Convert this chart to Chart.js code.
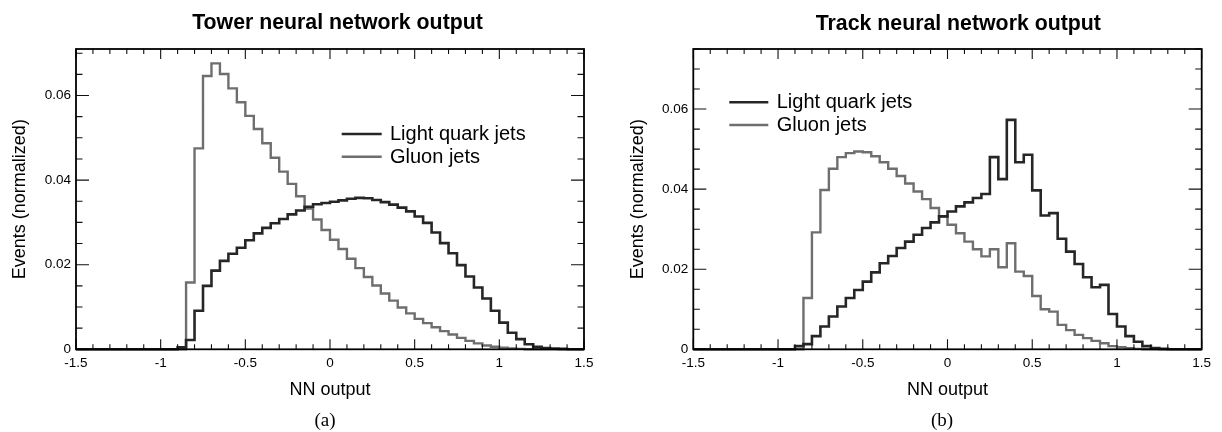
<!DOCTYPE html>
<html><head><meta charset="utf-8">
<script src="https://cdn.jsdelivr.net/npm/chart.js@4.4.1/dist/chart.umd.min.js"></script>
<style>
html,body{margin:0;padding:0;background:#fff;}
#wrap{position:relative;width:1222px;height:432px;background:#fff;}
canvas{position:absolute;top:0;}
</style></head><body>
<div id="wrap">
<canvas id="c1" width="611" height="432" style="left:0px"></canvas>
<canvas id="c2" width="611" height="432" style="left:611px"></canvas>
</div>
<script>
// ---------- DATA ----------
// lower edges of the 60 histogram bins (width 0.05); last upper edge is 1.5
const binLow = [-1.5,-1.45,-1.4,-1.35,-1.3,-1.25,-1.2,-1.15,-1.1,-1.05,
  -1,-0.95,-0.9,-0.85,-0.8,-0.75,-0.7,-0.65,-0.6,-0.55,
  -0.5,-0.45,-0.4,-0.35,-0.3,-0.25,-0.2,-0.15,-0.1,-0.05,
  0,0.05,0.1,0.15,0.2,0.25,0.3,0.35,0.4,0.45,
  0.5,0.55,0.6,0.65,0.7,0.75,0.8,0.85,0.9,0.95,
  1,1.05,1.1,1.15,1.2,1.25,1.3,1.35,1.4,1.45];
const binTopEdge = 1.5;

const seriesLabels = ['Light quark jets', 'Gluon jets'];

const towerQuark = [0,0,0,0,0,0,0,0,0,0,
  0,0,0.0005,0.0022,0.0091,0.015,0.0186,0.0209,0.0226,0.024,
  0.0258,0.0274,0.0287,0.0298,0.0308,0.0319,0.0328,0.0337,0.0343,0.0346,
  0.0349,0.0352,0.0356,0.0358,0.0357,0.0353,0.0348,0.0342,0.0335,0.0326,
  0.0314,0.0299,0.0276,0.0251,0.0227,0.0199,0.0172,0.0146,0.012,0.0091,
  0.0063,0.0039,0.0024,0.0012,0.0006,0.0003,0.0002,0.0001,0,0];
const towerGluon = [0,0,0,0,0,0,0,0,0,0,
  0,0,0,0.0158,0.0475,0.0646,0.0676,0.0651,0.0617,0.0584,
  0.0552,0.0521,0.0487,0.0453,0.042,0.0391,0.0362,0.0333,0.0307,0.0282,
  0.0259,0.0237,0.0214,0.0192,0.0171,0.0151,0.0132,0.0115,0.0099,0.0085,
  0.0072,0.0062,0.0052,0.0043,0.0035,0.0027,0.002,0.0014,0.0009,0.0006,
  0.0004,0.0002,0.0001,0,0,0,0,0,0,0];
const trackQuark = [0,0,0,0,0,0,0,0,0,0,
  0,0,0.0008,0.0013,0.0033,0.0057,0.0082,0.0107,0.0128,0.0148,
  0.0169,0.0192,0.0215,0.0233,0.0253,0.0269,0.0286,0.0303,0.0317,0.0332,
  0.0344,0.0357,0.0367,0.0378,0.0388,0.048,0.0425,0.0573,0.0467,0.0486,
  0.0397,0.0334,0.034,0.0276,0.0244,0.0213,0.018,0.0155,0.0161,0.0088,
  0.0057,0.0033,0.0019,0.0008,0.0003,0.0001,0,0,0,0];
const trackGluon = [0,0,0,0,0,0,0,0,0,0,
  0,0,0,0.0128,0.0292,0.0398,0.0451,0.048,0.049,0.0494,
  0.0492,0.0482,0.0467,0.0451,0.0433,0.0414,0.0394,0.0375,0.0353,0.0332,
  0.0311,0.029,0.0269,0.025,0.0232,0.025,0.0205,0.0265,0.0194,0.0183,
  0.0133,0.01,0.0094,0.0061,0.0048,0.0036,0.0028,0.0021,0.0015,0.0008,
  0.0005,0.0003,0.0001,0,0,0,0,0,0,0];

const xTickValues = [-1.5,-1,-0.5,0,0.5,1,1.5];
const xTickLabels = ['-1.5','-1','-0.5','0','0.5','1','1.5'];
const yTickValues = [0,0.02,0.04,0.06];
const yTickLabels = ['0','0.02','0.04','0.06'];

// ---------- STYLE ----------
const FONT = '"Liberation Sans", Arial, Helvetica, sans-serif';
const SERIF = '"Liberation Serif", "Times New Roman", serif';
const QUARK_COLOR = '#262626';
const GLUON_COLOR = '#6e6e6e';
Chart.defaults.font.family = FONT;
Chart.defaults.color = '#000';

function toSteps(vals) {
  const pts = binLow.map((x, i) => ({x: x, y: vals[i]}));
  pts.push({x: binTopEdge, y: vals[vals.length - 1]});
  return pts;
}

function tickList(min, max, step) {
  const out = [];
  const n = Math.round((max - min) / step);
  for (let i = 0; i <= n; i++) out.push(+(min + i * step).toFixed(6));
  return out;
}

const decorPlugin = {
  id: 'decor',
  afterDatasetsDraw(chart, args, o) {
    const {ctx, chartArea: a, scales: {x, y}} = chart;
    ctx.save();
    // inward ticks on all four sides
    ctx.strokeStyle = '#111';
    ctx.lineWidth = 1.1;
    ctx.beginPath();
    for (const v of tickList(x.min, x.max, 0.1)) {
      const px = x.getPixelForValue(v);
      const major = Math.abs(v / 0.5 - Math.round(v / 0.5)) < 1e-6;
      const L = major ? o.xMajorLen : o.xMinorLen;
      ctx.moveTo(px, a.bottom); ctx.lineTo(px, a.bottom - L);
      ctx.moveTo(px, a.top); ctx.lineTo(px, a.top + L);
    }
    for (const v of tickList(0, Math.floor(y.max / 0.005) * 0.005, 0.005)) {
      const py = y.getPixelForValue(v);
      const major = Math.abs(v / 0.02 - Math.round(v / 0.02)) < 1e-6;
      const L = major ? o.yMajorLen : o.yMinorLen;
      ctx.moveTo(a.left, py); ctx.lineTo(a.left + L, py);
      ctx.moveTo(a.right, py); ctx.lineTo(a.right - L, py);
    }
    ctx.stroke();
    // frame
    ctx.strokeStyle = '#000';
    ctx.lineWidth = 1.8;
    ctx.strokeRect(a.left, a.top, a.right - a.left, a.bottom - a.top);
    // legend
    ctx.font = '20px ' + FONT;
    ctx.textAlign = 'left';
    ctx.textBaseline = 'middle';
    chart.data.datasets.forEach((ds, i) => {
      const ly = o.legendY + i * o.legendGap;
      ctx.strokeStyle = ds.borderColor;
      ctx.lineWidth = ds.borderWidth;
      ctx.beginPath(); ctx.moveTo(o.legendX1, ly); ctx.lineTo(o.legendX2, ly); ctx.stroke();
      ctx.fillStyle = '#000';
      ctx.fillText(ds.label, o.legendTextX, ly + 0.5);
    });
    // title
    ctx.font = 'bold 21.3px ' + FONT;
    ctx.textAlign = 'center';
    ctx.textBaseline = 'alphabetic';
    ctx.fillStyle = '#000';
    ctx.fillText(o.title, o.titleX, o.titleY);
    // sub label
    ctx.font = '19px ' + SERIF;
    ctx.fillText(o.sub, o.subX, o.subY);
    ctx.restore();
  }
};

function makeChart(id, quark, gluon, c) {
  return new Chart(document.getElementById(id), {
    type: 'line',
    data: {
      datasets: [
        {label: seriesLabels[0], data: toSteps(quark), borderColor: QUARK_COLOR, borderWidth: 2.6,
         stepped: 'before', pointRadius: 0, fill: false, clip: 6, borderJoinStyle: 'miter', borderCapStyle: 'butt'},
        {label: seriesLabels[1], data: toSteps(gluon), borderColor: GLUON_COLOR, borderWidth: 2.4,
         stepped: 'before', pointRadius: 0, fill: false, clip: 6, borderJoinStyle: 'miter', borderCapStyle: 'butt'}
      ]
    },
    options: {
      responsive: false, animation: false, devicePixelRatio: 1,
      layout: {padding: {left: 0, top: 49, right: c.padRight, bottom: 0}},
      plugins: {
        legend: {display: false}, tooltip: {enabled: false}, title: {display: false},
        decor: c.decor
      },
      scales: {
        x: {
          type: 'linear', min: -1.5, max: 1.5,
          afterBuildTicks: s => { s.ticks = xTickValues.map(v => ({value: v})); },
          ticks: {callback: (v, i) => xTickLabels[i], font: {size: 13.5}, color: '#000',
                  padding: 6, maxRotation: 0, autoSkip: false},
          grid: {display: false, drawTicks: false, tickLength: 0},
          border: {display: false},
          title: {display: true, text: 'NN output', font: {size: 18}, color: '#000',
                  padding: {top: 0, bottom: 31}},
          afterFit: s => { s.height = 432 - 349.3; }
        },
        y: {
          type: 'linear', min: 0, max: c.ymax,
          afterBuildTicks: s => { s.ticks = yTickValues.map(v => ({value: v})); },
          ticks: {callback: (v, i) => yTickLabels[i], font: {size: 13.5}, color: '#000',
                  padding: 5, autoSkip: false},
          grid: {display: false, drawTicks: false, tickLength: 0},
          border: {display: false},
          title: {display: true, text: 'Events (normalized)', font: {size: 18}, color: '#000',
                  padding: {top: c.yTitlePad, bottom: 0}},
          afterFit: s => { s.width = c.yWidth; }
        }
      }
    },
    plugins: [decorPlugin]
  });
}

makeChart('c1', towerQuark, towerGluon, {
  ymax: 0.071, padRight: 27, yWidth: 76, yTitlePad: 9.5,
  decor: {xMajorLen: 10, xMinorLen: 5, yMajorLen: 13, yMinorLen: 6.5,
          legendX1: 341.7, legendX2: 381.7, legendTextX: 390, legendY: 134, legendGap: 22.7,
          title: 'Tower neural network output', titleX: 337.5, titleY: 28.5,
          sub: '(a)', subX: 325, subY: 426}
});
makeChart('c2', trackQuark, trackGluon, {
  ymax: 0.075, padRight: 20.3, yWidth: 82.3, yTitlePad: 15.8,
  decor: {xMajorLen: 10, xMinorLen: 5, yMajorLen: 13, yMinorLen: 6.5,
          legendX1: 118.3, legendX2: 157.3, legendTextX: 165.7, legendY: 102.3, legendGap: 22.7,
          title: 'Track neural network output', titleX: 347.3, titleY: 29.5,
          sub: '(b)', subX: 331, subY: 426}
});
</script>
</body></html>
